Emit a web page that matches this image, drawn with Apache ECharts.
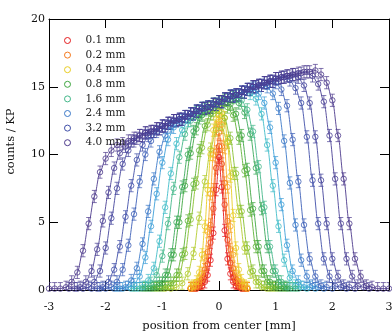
<!DOCTYPE html>
<html>
<head>
<meta charset="utf-8">
<script src="https://cdn.jsdelivr.net/npm/echarts@6/dist/echarts.min.js"></script>
<style>
  html, body { margin: 0; padding: 0; background: #fff; }
  #chart { width: 392px; height: 331px; }
</style>
</head>
<body>
<div id="chart"></div>
<script>
// half length of the error bars, counts / KP
const ERR = 0.45;

// narrow profiles are sampled every 0.05 mm
const xNarrow = [-0.5, -0.45, -0.4, -0.35, -0.3, -0.25, -0.2, -0.15, -0.1, -0.05, 0,
  0.05, 0.1, 0.15, 0.2, 0.25, 0.3, 0.35, 0.4, 0.45, 0.5];

const n01 = [0.1, 0.1, 0.1, 0.2, 0.3, 0.6, 1.1, 2.2, 4.2, 7.4, 9.8, 7.6, 4.4, 2.3, 1.2, 0.6, 0.3, 0.2, 0.1, 0.1, 0.1];
const n015 = [0.1, 0.1, 0.1, 0.3, 0.5, 1.0, 1.9, 3.5, 6.0, 9.0, 10.6, 9.3, 6.3, 3.7, 2.0, 1.0, 0.5, 0.3, 0.1, 0.1, 0.1];
const n02 = [0.1, 0.1, 0.2, 0.4, 0.8, 1.5, 2.8, 4.8, 7.4, 10.2, 11.6, 10.6, 7.9, 5.1, 3.0, 1.6, 0.8, 0.4, 0.2, 0.1, 0.1];
const n03 = [0.1, 0.2, 0.3, 0.6, 1.2, 2.4, 4.3, 7.1, 10.0, 11.9, 12.4, 12.2, 10.5, 7.6, 4.7, 2.6, 1.3, 0.6, 0.3, 0.2, 0.1];
const n04 = [0.2, 0.3, 0.6, 1.3, 2.6, 4.7, 7.4, 10.0, 11.8, 12.6, 12.9, 13.1, 12.7, 11.0, 8.4, 5.5, 3.1, 1.5, 0.7, 0.3, 0.2];

// wide profiles are sampled every 0.1 mm, starting at the x given with each curve below
const w06 = [0.1, 0.1, 0.2, 0.5, 1.2, 2.7, 5.3, 8.0, 10.4, 11.8,
  12.0, 10.9, 8.6, 5.8, 3.1, 1.3, 0.6, 0.2, 0.1, 0.1];
const w08 = [0.1, 0.1, 0.2, 0.5, 1.1, 2.7, 5.2, 7.9, 10.5, 12.2,
  13.0, 13.2, 12.7, 11.2, 8.6, 5.8, 3.1, 1.4, 0.6, 0.2, 0.1, 0.1];
const w10 = [0.1, 0.1, 0.2, 0.5, 1.1, 2.6, 5.1, 7.8, 10.3, 12.1,
  13.0, 13.6, 13.8, 13.5, 12.9, 11.2, 8.8, 5.9, 3.2, 1.4, 0.6, 0.2, 0.1, 0.1];
const w12 = [0.1, 0.1, 0.2, 0.5, 1.1, 2.6, 5.0, 7.7, 10.1, 11.9,
  12.9, 13.4, 13.7, 13.9, 14.0, 13.7, 13.0, 11.4, 8.9, 6.0, 3.2, 1.4, 0.6, 0.2, 0.1, 0.1];
const w14 = [0.1, 0.1, 0.2, 0.5, 1.1, 2.6, 5.0, 7.6, 10.0, 11.7,
  12.7, 13.3, 13.5, 13.7, 13.9, 14.1, 14.2, 13.8, 13.1, 11.5,
  9.0, 6.0, 3.2, 1.4, 0.6, 0.2, 0.1, 0.1];
const w16 = [0.1, 0.1, 0.2, 0.5, 1.1, 2.5, 4.9, 7.5, 9.8, 11.5,
  12.5, 13.1, 13.4, 13.5, 13.7, 13.9, 14.1, 14.3, 14.3, 14.0,
  13.3, 11.7, 9.1, 6.1, 3.2, 1.4, 0.6, 0.2, 0.1, 0.1];
const w19 = [0.1, 0.1, 0.2, 0.7, 1.6, 3.6, 6.1, 8.6, 10.8, 11.8,
  12.5, 13.0, 13.2, 13.4, 13.5, 13.7, 13.9, 14.1, 14.3, 14.4,
  14.6, 14.5, 14.1, 13.0, 10.7, 7.7, 4.7, 2.2, 0.9, 0.3, 0.2, 0.1];
const w22 = [0.1, 0.1, 0.2, 0.4, 1.0, 2.4, 4.7, 7.1, 9.4, 11.1,
  12.0, 12.5, 12.8, 13.0, 13.2, 13.4, 13.5, 13.7, 13.9, 14.1,
  14.3, 14.4, 14.6, 14.8, 14.9, 14.5, 13.8, 12.0, 9.4, 6.3,
  3.3, 1.4, 0.6, 0.2, 0.2, 0.1];
const w25 = [0.1, 0.1, 0.2, 0.7, 1.6, 3.4, 5.8, 8.2, 10.2, 11.4,
  12.1, 12.5, 12.6, 12.8, 13.0, 13.2, 13.4, 13.5, 13.7, 13.9,
  14.1, 14.3, 14.4, 14.6, 14.8, 15.0, 15.1, 15.0, 14.5, 13.4,
  11.0, 7.9, 4.8, 2.2, 1.0, 0.3, 0.2, 0.1];
const w29 = [0.1, 0.1, 0.2, 0.6, 1.5, 3.3, 5.6, 8.0, 10.0, 11.0,
  11.7, 12.1, 12.3, 12.5, 12.6, 12.8, 13.0, 13.2, 13.4, 13.5,
  13.7, 13.9, 14.1, 14.3, 14.4, 14.6, 14.8, 15.0, 15.1, 15.3,
  15.4, 15.3, 14.8, 13.6, 11.1, 8.0, 4.8, 2.3, 1.0, 0.3,
  0.2, 0.1];
const w33 = [0.1, 0.1, 0.2, 0.6, 1.5, 3.2, 5.4, 7.7, 9.6, 10.7,
  11.4, 11.7, 11.9, 12.1, 12.3, 12.5, 12.6, 12.8, 13.0, 13.2,
  13.4, 13.5, 13.7, 13.9, 14.1, 14.3, 14.4, 14.6, 14.8, 15.0,
  15.1, 15.3, 15.4, 15.6, 15.7, 15.5, 14.9, 13.8, 11.3, 8.1,
  4.9, 2.3, 1.0, 0.3, 0.2, 0.1];
const w37 = [0.1, 0.1, 0.2, 0.6, 1.4, 3.1, 5.3, 7.5, 9.3, 10.3,
  11.0, 11.4, 11.6, 11.7, 11.9, 12.1, 12.3, 12.5, 12.6, 12.8,
  13.0, 13.2, 13.4, 13.5, 13.7, 13.9, 14.1, 14.3, 14.4, 14.6,
  14.8, 15.0, 15.1, 15.3, 15.4, 15.6, 15.7, 15.8, 15.9, 15.7,
  15.1, 13.8, 11.3, 8.1, 4.9, 2.3, 1.0, 0.3, 0.2, 0.1];
const w41 = [0.1, 0.1, 0.2, 0.6, 1.4, 3.0, 5.1, 7.2, 9.0, 10.1,
  10.6, 11.0, 11.2, 11.4, 11.6, 11.7, 11.9, 12.1, 12.3, 12.5,
  12.6, 12.8, 13.0, 13.2, 13.4, 13.5, 13.7, 13.9, 14.1, 14.3,
  14.4, 14.6, 14.8, 15.0, 15.1, 15.3, 15.4, 15.6, 15.7, 15.8,
  15.9, 16.0, 16.1, 15.8, 15.2, 13.9, 11.4, 8.2, 4.9, 2.3,
  1.0, 0.3, 0.2, 0.1];
const w45 = [0.1, 0.1, 0.1, 0.2, 0.6, 1.3, 2.9, 4.9, 6.9, 8.7,
  9.7, 10.3, 10.7, 10.8, 11.0, 11.2, 11.4, 11.6, 11.7, 11.9,
  12.1, 12.3, 12.5, 12.6, 12.8, 13.0, 13.2, 13.4, 13.5, 13.7,
  13.9, 14.1, 14.3, 14.4, 14.6, 14.8, 15.0, 15.1, 15.3, 15.4,
  15.6, 15.7, 15.8, 15.9, 16.0, 16.1, 16.1, 16.2, 15.9, 15.3,
  14.0, 11.4, 8.2, 4.9, 2.3, 1.0, 0.3, 0.2, 0.1, 0.1,
  0.1];

const legendNames = ['0.1 mm', '0.2 mm', '0.4 mm', '0.8 mm', '1.6 mm', '2.4 mm', '3.2 mm', '4.0 mm'];

// drawn from the narrowest to the widest, so the wide ones sit on top
const curves = [
  { name: '0.1 mm', color: '#e41a1c', values: n01 },
  { name: 'n0.15', color: '#ef461d', values: n015 },
  { name: '0.2 mm', color: '#f57a1f', values: n02 },
  { name: 'n0.3', color: '#f9a825', values: n03 },
  { name: '0.4 mm', color: '#e9cd22', values: n04 },
  { name: 'w0.6', color: '#b3cc2c', values: w06, start: -0.95 },
  { name: 'w0.8', color: '#86bf2f', values: w08, start: -1.1 },
  { name: 'w1.0', color: '#5eb236', values: w10, start: -1.15 },
  { name: '0.8 mm', color: '#3ea640', values: w12, start: -1.3 },
  { name: 'w1.4', color: '#3aa95a', values: w14, start: -1.35 },
  { name: '1.6 mm', color: '#44b88a', values: w16, start: -1.5 },
  { name: 'w1.9', color: '#40bcc8', values: w19, start: -1.55 },
  { name: 'w2.2', color: '#3c9ed8', values: w22, start: -1.8 },
  { name: '2.4 mm', color: '#3a78c8', values: w25, start: -1.85 },
  { name: 'w2.9', color: '#3d60b8', values: w29, start: -2.1 },
  { name: '3.2 mm', color: '#3f4ea8', values: w33, start: -2.25 },
  { name: 'w3.7', color: '#44449c', values: w37, start: -2.5 },
  { name: 'w4.1', color: '#493f94', values: w41, start: -2.65 },
  { name: '4.0 mm', color: '#4d3a8c', values: w45, start: -3.0 },
];

const FONT = 'DejaVu Serif';

function points(curve) {
  return curve.values.map((v, i) => {
    const x = curve.start === undefined ? xNarrow[i] : Math.round((curve.start + 0.1 * i) * 100) / 100;
    return [x, v];
  });
}

function renderErrorBar(params, api) {
  const x = api.value(0);
  const y = api.value(1);
  const top = api.coord([x, y + ERR]);
  const bottom = api.coord([x, y - ERR]);
  const cap = 2.5;
  const style = { stroke: api.visual('color'), lineWidth: 0.7, fill: null };
  return {
    type: 'group',
    children: [
      { type: 'line', shape: { x1: top[0], y1: top[1], x2: bottom[0], y2: bottom[1] }, style },
      { type: 'line', shape: { x1: top[0] - cap, y1: top[1], x2: top[0] + cap, y2: top[1] }, style },
      { type: 'line', shape: { x1: bottom[0] - cap, y1: bottom[1], x2: bottom[0] + cap, y2: bottom[1] }, style },
    ],
  };
}

const series = [];
curves.forEach((c) => {
  const data = points(c);
  series.push({
    type: 'custom',
    name: c.name,
    data,
    renderItem: renderErrorBar,
    itemStyle: { color: c.color },
    clip: true,
    silent: true,
  });
  series.push({
    type: 'line',
    name: c.name,
    data,
    smooth: 0.3,
    smoothMonotone: 'x',
    symbol: 'circle',
    symbolSize: 5.5,
    lineStyle: { color: c.color, width: 0.9 },
    itemStyle: { color: 'rgba(0,0,0,0)', borderColor: c.color, borderWidth: 0.8 },
    clip: true,
    silent: true,
  });
});

const axisLine = { onZero: false, lineStyle: { color: '#000', width: 1 } };
const tick = { inside: true, length: 9, lineStyle: { color: '#000', width: 1 } };
const labelStyle = { fontFamily: FONT, fontSize: 11, color: '#111' };

const chart = echarts.init(document.getElementById('chart'));
chart.setOption({
  animation: false,
  backgroundColor: '#fff',
  grid: { left: 49, right: 3, top: 19, bottom: 41, outerBoundsMode: 'none', containLabel: false },
  legend: {
    orient: 'vertical',
    left: 59,
    top: 29.5,
    itemWidth: 26,
    itemHeight: 6,
    itemGap: 2.6,
    icon: 'circle',
    selectedMode: false,
    textStyle: { fontFamily: FONT, fontSize: 10.5, color: '#222', lineHeight: 12 },
    data: legendNames.map((n) => {
      const c = curves.find((cv) => cv.name === n);
      return { name: n, itemStyle: { color: 'rgba(0,0,0,0)', borderColor: c.color, borderWidth: 1 } };
    }),
  },
  xAxis: [
    {
      type: 'value',
      position: 'bottom',
      min: -3,
      max: 3,
      interval: 1,
      axisLine,
      axisTick: tick,
      splitLine: { show: false },
      axisLabel: { ...labelStyle, margin: 12 },
      name: 'position from center [mm]',
      nameLocation: 'middle',
      nameGap: 30,
      nameTextStyle: { fontFamily: FONT, fontSize: 11.5, color: '#111' },
    },
    {
      type: 'value',
      position: 'top',
      min: -3,
      max: 3,
      interval: 1,
      axisLine,
      axisTick: tick,
      splitLine: { show: false },
      axisLabel: { show: false },
    },
  ],
  yAxis: [
    {
      type: 'value',
      position: 'left',
      min: 0,
      max: 20,
      interval: 5,
      axisLine,
      axisTick: tick,
      splitLine: { show: false },
      axisLabel: { ...labelStyle, margin: 4 },
      name: 'counts / KP',
      nameLocation: 'middle',
      nameGap: 32,
      nameTextStyle: { fontFamily: FONT, fontSize: 11.5, color: '#111', padding: [0, 0, 0, 26] },
    },
    {
      type: 'value',
      position: 'right',
      min: 0,
      max: 20,
      interval: 5,
      axisLine,
      axisTick: tick,
      splitLine: { show: false },
      axisLabel: { show: false },
    },
  ],
  series,
});
</script>
</body>
</html>
